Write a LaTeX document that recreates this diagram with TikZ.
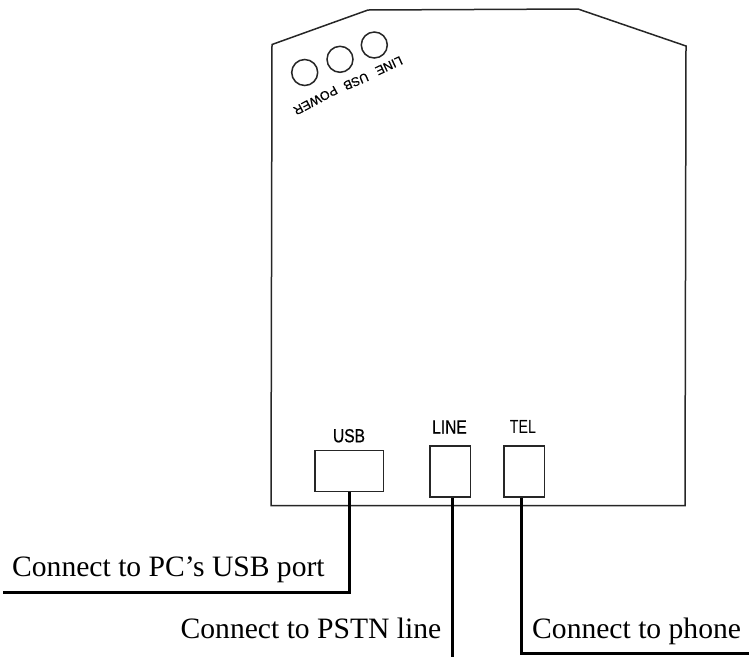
\documentclass[tikz,border=0pt]{standalone}
\usepackage{fontspec}
\setmainfont{Liberation Serif}
\newfontfamily\lblfont[FakeStretch=0.75]{Liberation Sans}
\newfontfamily\lblbold[FakeStretch=0.82,FakeBold=0.6]{Liberation Sans}
\newfontfamily\ledfont[LetterSpace=1,FakeBold=0.6]{Liberation Sans}
\tikzset{
  x=1pt,y=-1pt,
  outline/.style={draw=black!85,line width=1.5pt,line join=miter},
  port/.style={draw=black!85,line width=1.5pt,inner sep=0pt,anchor=north west},
  led/.style={circle,draw=black!85,line width=1.5pt,inner sep=0pt,minimum size=26pt},
  cable/.style={draw=black,line width=3pt,line join=miter},
  caption/.style={font=\fontsize{29.6}{32}\selectfont,inner sep=0pt,anchor=base west},
  portlabel/.style={font=\lblfont\fontsize{19}{21}\selectfont,inner sep=0pt,anchor=base},
  portbold/.style={font=\lblbold\fontsize{19}{21}\selectfont,inner sep=0pt,anchor=base},
  ledlabel/.style={font=\ledfont\fontsize{12.5}{14}\selectfont,inner sep=0pt}
}
\begin{document}
\begin{tikzpicture}
\useasboundingbox (0,0) rectangle (749,657);
\draw[outline] (272,44.5) -- (368,10) -- (578,9) -- (686,46) -- (685,505.5) -- (271,505.5) -- cycle;
\node[led] (ledp) at (304.7,72.5) {};
\node[led] (ledu) at (340,59.3) {};
\node[led] (ledl) at (374.3,45) {};
\node[ledlabel,rotate=-152] (tp) at (315.5,100.5) {POWER};
\node[ledlabel,rotate=-157] (tu) at (356,81.5) {USB};
\node[ledlabel,rotate=-155] (tl) at (389,65.7) {LINE};
\node[port,minimum width=68.7pt,minimum height=41pt] (usb) at (314,449.7) {};
\node[port,minimum width=40.7pt,minimum height=51pt] (line) at (429,445) {};
\node[port,minimum width=40.7pt,minimum height=51pt] (tel) at (503,445) {};
\node[portbold] (tusb) at (349,442.3) {USB};
\node[portbold] (tline) at (449.5,433.5) {LINE};
\node[portlabel] (ttel) at (523,433.5) {TEL};
\coordinate (c1a) at (349,592.3);
\coordinate (c1b) at (3,592.3);
\coordinate (c2a) at (452.3,657);
\coordinate (c3a) at (521.7,653.8);
\coordinate (c3b) at (749,653.8);
\draw[cable] (usb.south -| c1a) -- (c1a) -- (c1b);
\draw[cable] (line.south -| c2a) -- (c2a);
\draw[cable] (tel.south -| c3a) -- (c3a) -- (c3b);
\node[caption] (cap1) at (12,576.7) {Connect to PC’s USB port};
\node[caption] (cap2) at (180.5,638.3) {Connect to PSTN line};
\node[caption] (cap3) at (532,638.3) {Connect to phone};
\end{tikzpicture}
\end{document}
